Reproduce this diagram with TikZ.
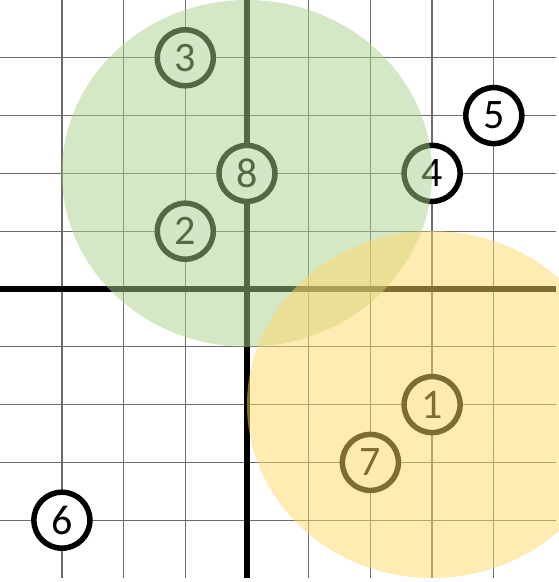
\documentclass[tikz,border=0pt]{standalone}
\usepackage{fontspec}
\setmainfont{Carlito}
\definecolor{zonegreen}{HTML}{A9D18E}
\definecolor{zoneyellow}{HTML}{FFD966}
\begin{document}
\begin{tikzpicture}[x=61.7bp,y=57.8bp,
  gridline/.style={draw=black!58,line width=1.3bp},
  axisline/.style={draw=black,line width=5.5bp},
  pt/.style={circle,draw=black,fill=white,line width=5.5bp,minimum size=56bp,inner sep=0pt,
    font=\fontsize{42bp}{42bp}\selectfont},
  zone/.style={opacity=0.5}]
\useasboundingbox (-247bp,-293bp) rectangle (312bp,289bp);
% grid
\foreach \i in {-3,...,-1,1,2,3,4} \draw[gridline] (\i,5) -- (\i,-5);
\foreach \j in {-4,...,-1,1,2,3,4} \draw[gridline] (-4,\j) -- (5,\j);
% axes
\draw[axisline] (-4,0) -- (5,0);
\draw[axisline] (0,5) -- (0,-5);
% points
\node[pt] (p3) at (-1,4) {3};
\node[pt] (p8) at (0,2) {8};
\node[pt] (p2) at (-1,1) {2};
\node[pt] (p4) at (3,2) {4};
\node[pt] (p5) at (4,3) {5};
\node[pt] (p6) at (-3,-4) {6};
\node[pt] (p1) at (3,-2) {1};
\node[pt] (p7) at (2,-3) {7};
% zones
\fill[zone,zonegreen] (0,2) ellipse [x radius=3,y radius=3];
\fill[zone,zoneyellow] (3,-2) ellipse [x radius=3,y radius=3];
\end{tikzpicture}
\end{document}
